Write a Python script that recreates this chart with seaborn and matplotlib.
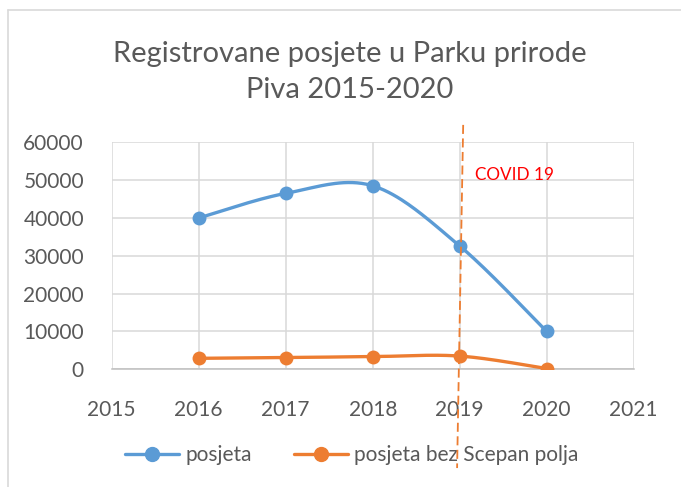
import numpy as np
import pandas as pd
import matplotlib
matplotlib.use("Agg")
import matplotlib.pyplot as plt
from matplotlib.lines import Line2D
import seaborn as sns

years = [2016, 2017, 2018, 2019, 2020]
posjeta = [40000, 46500, 48500, 32600, 10000]
posjeta_bez = [2900, 3100, 3350, 3500, 200]
series_names = ["posjeta", "posjeta bez Scepan polja"]
x_ticks = [2015, 2016, 2017, 2018, 2019, 2020, 2021]
y_ticks = [0, 10000, 20000, 30000, 40000, 50000, 60000]
title = "Registrovane posjete u Parku prirode\nPiva 2015-2020"
annotation = "COVID 19"
covid_year = 2019

BLUE = "#5B9BD5"
ORANGE = "#ED7D31"
GREY = "#595959"
GRID = "#D9D9D9"

sns.set_style("white")
plt.rcParams["font.family"] = ["Lato", "DejaVu Sans"]


def smooth(xs, ys, n=40):
    """Excel-like smoothed line (Bezier through points, Catmull-Rom controls)."""
    P = np.column_stack([xs, ys]).astype(float)
    m = len(P)
    out = []
    for i in range(m - 1):
        p0 = P[i - 1] if i > 0 else P[i]
        p1 = P[i]
        p2 = P[i + 1]
        p3 = P[i + 2] if i + 2 < m else P[i + 1]
        c1 = p1 + (p2 - p0) / 6.0
        c2 = p2 - (p3 - p1) / 6.0
        t = np.linspace(0, 1, n)[:, None]
        seg = ((1 - t) ** 3) * p1 + 3 * ((1 - t) ** 2) * t * c1 + 3 * (1 - t) * t ** 2 * c2 + t ** 3 * p2
        out.append(seg if i == 0 else seg[1:])
    arr = np.vstack(out)
    return arr[:, 0], arr[:, 1]


fig = plt.figure(figsize=(6.81, 4.87), dpi=100)
ax = fig.add_axes([111.7 / 681, 1 - 369.3 / 487, (633.7 - 111.7) / 681, (369.3 - 142.3) / 487])

for vals, color, name in [(posjeta, BLUE, series_names[0]), (posjeta_bez, ORANGE, series_names[1])]:
    sx, sy = smooth(years, vals)
    df_s = pd.DataFrame({"x": sx, "y": sy})
    sns.lineplot(data=df_s, x="x", y="y", ax=ax, color=color, linewidth=2.4, sort=False,
                 estimator=None, zorder=3)
    df_p = pd.DataFrame({"x": years, "y": vals})
    sns.scatterplot(data=df_p, x="x", y="y", ax=ax, color=color, s=100, edgecolor=color,
                    linewidth=0, zorder=4)

ax.set_xlim(x_ticks[0], x_ticks[-1])
ax.set_ylim(y_ticks[0], y_ticks[-1])
ax.set_xticks(x_ticks)
ax.set_yticks(y_ticks)
ax.set_xticklabels([str(v) for v in x_ticks])
ax.set_yticklabels([str(v) for v in y_ticks])
ax.set_xlabel("")
ax.set_ylabel("")
ax.grid(True, color=GRID, linewidth=1.1)
ax.set_axisbelow(True)
for s in ["top", "right", "left"]:
    ax.spines[s].set_visible(False)
ax.spines["bottom"].set_color("#BFBFBF")
ax.spines["bottom"].set_linewidth(1.1)
ax.tick_params(axis="both", length=0, labelsize=15, colors=GREY)
ax.tick_params(axis="x", pad=22)
ax.tick_params(axis="y", pad=20)

# COVID line (slightly slanted dashed marker, extends beyond plot area)
ax.plot([covid_year + 0.04, covid_year - 0.03], [64600, -26100], color=ORANGE, linewidth=1.3,
        linestyle=(0, (5, 2.5)), clip_on=False, zorder=10)
ax.text(covid_year + 0.18, 51400, annotation, color="#FF0000", fontsize=12.3, va="center", ha="left")

fig.text(350 / 681, 1 - 72 / 487, title, ha="center", va="center", fontsize=21, color=GREY,
         linespacing=1.48)

handles = [Line2D([], [], color=BLUE, linewidth=2.4, marker="o", markersize=10),
           Line2D([], [], color=ORANGE, linewidth=2.4, marker="o", markersize=10)]
ax.legend(handles, series_names, loc="center", bbox_to_anchor=(352 / 681, 1 - 455 / 487),
          bbox_transform=fig.transFigure, ncol=2, frameon=False, fontsize=15,
          labelcolor=GREY, handlelength=2.6, handletextpad=0.3, columnspacing=2.0)

# chart border
fig.add_artist(Line2D([8 / 681, 8 / 681], [0, 1 - 10 / 487], transform=fig.transFigure,
                      color=GRID, linewidth=1.2))
fig.add_artist(Line2D([8 / 681, 1], [1 - 10 / 487, 1 - 10 / 487], transform=fig.transFigure,
                      color=GRID, linewidth=1.2))

fig.savefig("out.png", dpi=100)
